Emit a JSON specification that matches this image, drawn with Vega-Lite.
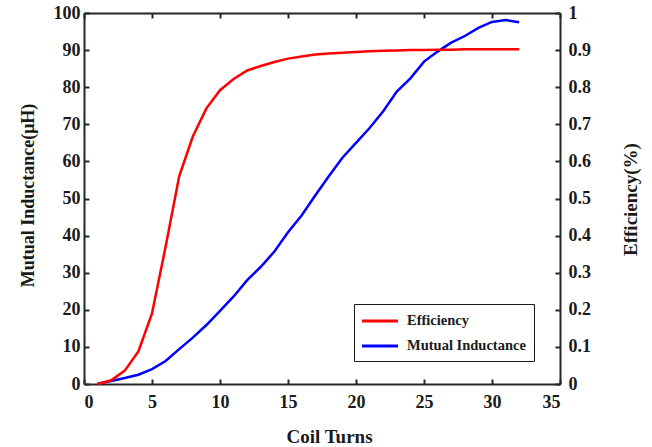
{
  "$schema": "https://vega.github.io/schema/vega-lite/v6.json",
  "width": 476,
  "height": 371,
  "autosize": {"type": "none"},
  "padding": {"left": 84, "top": 13, "right": 92, "bottom": 63},
  "background": "white",
  "config": {
    "view": {"stroke": null},
    "font": "Liberation Serif",
    "axis": {
      "domainColor": "#262626",
      "domainWidth": 2,
      "tickColor": "#262626",
      "tickWidth": 2,
      "tickSize": -5,
      "grid": false,
      "labelFont": "Liberation Serif",
      "labelFontWeight": "bold",
      "labelFontSize": 18,
      "labelColor": "#1a1a1a",
      "titleFont": "Liberation Serif",
      "titleFontWeight": "bold",
      "titleFontSize": 19,
      "titleColor": "#1a1a1a"
    },
    "legend": {
      "labelFont": "Liberation Serif",
      "labelFontWeight": "bold",
      "labelFontSize": 14.5,
      "labelColor": "#1a1a1a"
    }
  },
  "data": {
    "values": [
      {"turns": 1, "inductance": 0.1, "efficiency": 0.0},
      {"turns": 2, "inductance": 0.8, "efficiency": 0.01},
      {"turns": 3, "inductance": 1.6, "efficiency": 0.036},
      {"turns": 4, "inductance": 2.5, "efficiency": 0.088},
      {"turns": 5, "inductance": 4.0, "efficiency": 0.19},
      {"turns": 6, "inductance": 6.2, "efficiency": 0.37},
      {"turns": 7, "inductance": 9.4, "efficiency": 0.56},
      {"turns": 8, "inductance": 12.5, "efficiency": 0.667},
      {"turns": 9, "inductance": 15.9, "efficiency": 0.743},
      {"turns": 10, "inductance": 19.7, "efficiency": 0.792},
      {"turns": 11, "inductance": 23.6, "efficiency": 0.822},
      {"turns": 12, "inductance": 28.0, "efficiency": 0.845},
      {"turns": 13, "inductance": 31.6, "efficiency": 0.857},
      {"turns": 14, "inductance": 35.7, "efficiency": 0.868},
      {"turns": 15, "inductance": 40.9, "efficiency": 0.877},
      {"turns": 16, "inductance": 45.4, "efficiency": 0.883},
      {"turns": 17, "inductance": 50.8, "efficiency": 0.888},
      {"turns": 18, "inductance": 56.0, "efficiency": 0.891},
      {"turns": 19, "inductance": 61.0, "efficiency": 0.893},
      {"turns": 20, "inductance": 65.0, "efficiency": 0.895},
      {"turns": 21, "inductance": 69.0, "efficiency": 0.897},
      {"turns": 22, "inductance": 73.5, "efficiency": 0.898},
      {"turns": 23, "inductance": 78.8, "efficiency": 0.899},
      {"turns": 24, "inductance": 82.4, "efficiency": 0.9},
      {"turns": 25, "inductance": 86.9, "efficiency": 0.9},
      {"turns": 26, "inductance": 89.6, "efficiency": 0.901},
      {"turns": 27, "inductance": 92.0, "efficiency": 0.901},
      {"turns": 28, "inductance": 93.8, "efficiency": 0.902},
      {"turns": 29, "inductance": 96.0, "efficiency": 0.902},
      {"turns": 30, "inductance": 97.6, "efficiency": 0.902},
      {"turns": 31, "inductance": 98.1, "efficiency": 0.902},
      {"turns": 32, "inductance": 97.5, "efficiency": 0.902}
    ]
  },
  "layer": [
    {
      "mark": {"type": "line", "strokeWidth": 2.5},
      "encoding": {
        "x": {
          "field": "turns",
          "type": "quantitative",
          "scale": {"domain": [0, 35], "nice": false},
          "axis": {
            "orient": "bottom",
            "title": "Coil Turns",
            "values": [0, 5, 10, 15, 20, 25, 30, 35],
            "labelPadding": 14,
            "titleX": 245,
            "titleY": 52,
            "titleBaseline": "middle",
            "titleAnchor": "middle",
            "titleAlign": "center"
          }
        },
        "y": {
          "field": "inductance",
          "type": "quantitative",
          "scale": {"domain": [0, 100], "nice": false},
          "axis": {
            "orient": "left",
            "title": "Mutual Inductance(μH)",
            "values": [0, 10, 20, 30, 40, 50, 60, 70, 80, 90, 100],
            "labelPadding": 9,
            "titleFontSize": 18,
            "titleX": -56,
            "titleY": 182,
            "titleAngle": -90,
            "titleBaseline": "middle",
            "titleAlign": "center"
          }
        },
        "color": {
          "datum": "Mutual Inductance",
          "scale": {"domain": ["Efficiency", "Mutual Inductance"], "range": ["#ff0000", "#0000ff"]},
          "legend": {
            "title": null,
            "orient": "none",
            "legendX": 270,
            "legendY": 291,
            "strokeColor": "#1a1a1a",
            "fillColor": "white",
            "padding": 8,
            "symbolType": "M-1,-0.17H3V0.17H-1Z",
            "symbolSize": 324,
            "symbolStrokeWidth": 0,
            "labelOffset": 27,
            "rowPadding": 9,
            "encode": {
              "symbols": {
                "update": {
                  "fill": {"scale": "color", "field": "value"},
                  "stroke": {"value": "transparent"}
                }
              }
            }
          }
        }
      }
    },
    {
      "mark": {"type": "line", "strokeWidth": 2.5},
      "encoding": {
        "x": {
          "field": "turns",
          "type": "quantitative",
          "scale": {"domain": [0, 35], "nice": false},
          "axis": {
            "orient": "top",
            "title": null,
            "labels": false,
            "values": [0, 5, 10, 15, 20, 25, 30, 35]
          }
        },
        "y": {
          "field": "efficiency",
          "type": "quantitative",
          "scale": {"domain": [0, 1], "nice": false},
          "axis": {
            "orient": "right",
            "title": "Efficiency(%)",
            "format": "~g",
            "values": [0, 0.1, 0.2, 0.3, 0.4, 0.5, 0.6, 0.7, 0.8, 0.9, 1],
            "labelPadding": 13,
            "titleX": 70,
            "titleY": 186,
            "titleAngle": -90,
            "titleBaseline": "middle",
            "titleAlign": "center"
          }
        },
        "color": {"datum": "Efficiency"}
      }
    }
  ],
  "resolve": {"scale": {"x": "independent", "y": "independent"}}
}
